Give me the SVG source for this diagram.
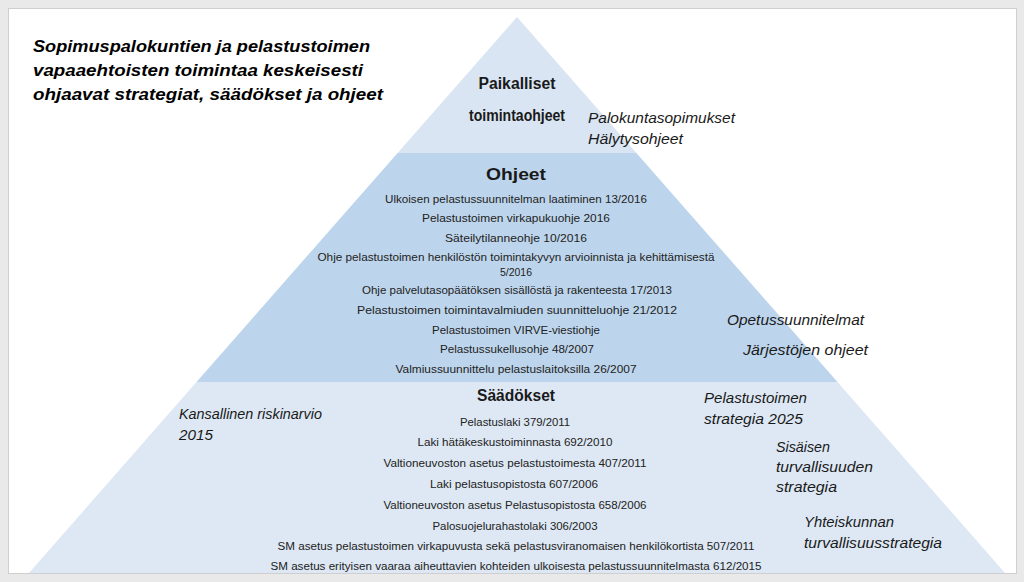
<svg xmlns="http://www.w3.org/2000/svg" width="1024" height="582" viewBox="0 0 1024 582">
<style>
text{font-family:"Liberation Sans",Arial,sans-serif;fill:#1a1a1a}
.title{font-size:17px;font-weight:bold;font-style:italic;fill:#000}
.head{font-size:16px;font-weight:bold;text-anchor:middle}
.item{font-size:10.5px;text-anchor:middle;fill:#222}
.law{font-size:10px;text-anchor:middle;fill:#222}
.side{font-size:14px;font-style:italic}
</style>
<rect x="0" y="0" width="1024" height="582" fill="#e9e9e9"/>
<rect x="8.5" y="8.5" width="1008" height="565" fill="#ffffff" stroke="#cfcfcf"/>
<g id="band-top">
<polygon points="517,17 636.4,153 397.6,153" fill="#d9e5f2"/>
</g>
<g id="band-middle">
<polygon points="397.6,153 636.4,153 837.5,382 196.5,382" fill="#bdd5ec"/>
</g>
<g id="band-bottom">
<polygon points="196.5,382 837.5,382 1005,573 29,573" fill="#dde8f4"/>
</g>
<g id="title">
<text class="title" x="33" y="52" textLength="337" lengthAdjust="spacingAndGlyphs">Sopimuspalokuntien ja pelastustoimen</text>
<text class="title" x="33" y="76" textLength="330" lengthAdjust="spacingAndGlyphs">vapaaehtoisten toimintaa keskeisesti</text>
<text class="title" x="33" y="100" textLength="350" lengthAdjust="spacingAndGlyphs">ohjaavat strategiat, säädökset ja ohjeet</text>
</g>
<g id="paikalliset">
<text class="head" x="517" y="89" textLength="77" lengthAdjust="spacingAndGlyphs">Paikalliset</text>
<text class="head" x="517" y="121" textLength="96" lengthAdjust="spacingAndGlyphs">toimintaohjeet</text>
<text class="side" x="588" y="123" textLength="147" lengthAdjust="spacingAndGlyphs">Palokuntasopimukset</text>
<text class="side" x="588" y="144" textLength="95" lengthAdjust="spacingAndGlyphs">Hälytysohjeet</text>
</g>
<g id="ohjeet">
<text class="head" x="516" y="180" style="font-size:17px" textLength="60" lengthAdjust="spacingAndGlyphs">Ohjeet</text>
<text class="item" x="516" y="203" textLength="262" lengthAdjust="spacingAndGlyphs">Ulkoisen pelastussuunnitelman laatiminen 13/2016</text>
<text class="item" x="516" y="222" textLength="188" lengthAdjust="spacingAndGlyphs">Pelastustoimen virkapukuohje 2016</text>
<text class="item" x="516" y="242" textLength="142" lengthAdjust="spacingAndGlyphs">Säteilytilanneohje 10/2016</text>
<text class="item" x="516" y="261" textLength="397" lengthAdjust="spacingAndGlyphs">Ohje pelastustoimen henkilöstön toimintakyvyn arvioinnista ja kehittämisestä</text>
<text class="item" x="516" y="276" textLength="32" lengthAdjust="spacingAndGlyphs">5/2016</text>
<text class="item" x="517" y="294" textLength="310" lengthAdjust="spacingAndGlyphs">Ohje palvelutasopäätöksen sisällöstä ja rakenteesta 17/2013</text>
<text class="item" x="517" y="314" textLength="320" lengthAdjust="spacingAndGlyphs">Pelastustoimen toimintavalmiuden suunnitteluohje 21/2012</text>
<text class="item" x="516" y="334" textLength="168" lengthAdjust="spacingAndGlyphs">Pelastustoimen VIRVE-viestiohje</text>
<text class="item" x="517" y="353" textLength="154" lengthAdjust="spacingAndGlyphs">Pelastussukellusohje 48/2007</text>
<text class="item" x="516" y="373" textLength="241" lengthAdjust="spacingAndGlyphs">Valmiussuunnittelu pelastuslaitoksilla 26/2007</text>
<text class="side" x="727" y="325" textLength="137" lengthAdjust="spacingAndGlyphs">Opetussuunnitelmat</text>
<text class="side" x="743" y="355" textLength="125" lengthAdjust="spacingAndGlyphs">Järjestöjen ohjeet</text>
</g>
<g id="saadokset">
<text class="head" x="516" y="401" style="font-size:17px" textLength="78" lengthAdjust="spacingAndGlyphs">Säädökset</text>
<text class="law" x="515" y="426" textLength="110" lengthAdjust="spacingAndGlyphs">Pelastuslaki 379/2011</text>
<text class="law" x="515" y="446" textLength="195" lengthAdjust="spacingAndGlyphs">Laki hätäkeskustoiminnasta 692/2010</text>
<text class="law" x="515" y="467" textLength="263" lengthAdjust="spacingAndGlyphs">Valtioneuvoston asetus pelastustoimesta 407/2011</text>
<text class="law" x="514" y="488" textLength="168" lengthAdjust="spacingAndGlyphs">Laki pelastusopistosta 607/2006</text>
<text class="law" x="515" y="509" textLength="263" lengthAdjust="spacingAndGlyphs">Valtioneuvoston asetus Pelastusopistosta 658/2006</text>
<text class="law" x="515" y="530" textLength="165" lengthAdjust="spacingAndGlyphs">Palosuojelurahastolaki 306/2003</text>
<text class="law" x="516" y="550" textLength="477" lengthAdjust="spacingAndGlyphs">SM asetus pelastustoimen virkapuvusta sekä pelastusviranomaisen henkilökortista 507/2011</text>
<text class="law" x="516" y="570" textLength="491" lengthAdjust="spacingAndGlyphs">SM asetus erityisen vaaraa aiheuttavien kohteiden ulkoisesta pelastussuunnitelmasta 612/2015</text>
</g>
<g id="strategiat">
<text class="side" x="179" y="419" textLength="143" lengthAdjust="spacingAndGlyphs">Kansallinen riskinarvio</text>
<text class="side" x="179" y="440" textLength="34" lengthAdjust="spacingAndGlyphs">2015</text>
<text class="side" x="704" y="403" textLength="103" lengthAdjust="spacingAndGlyphs">Pelastustoimen</text>
<text class="side" x="704" y="424" textLength="99" lengthAdjust="spacingAndGlyphs">strategia 2025</text>
<text class="side" x="776" y="452" textLength="54" lengthAdjust="spacingAndGlyphs">Sisäisen</text>
<text class="side" x="776" y="472" textLength="97" lengthAdjust="spacingAndGlyphs">turvallisuuden</text>
<text class="side" x="776" y="492" textLength="61" lengthAdjust="spacingAndGlyphs">strategia</text>
<text class="side" x="804" y="527" textLength="90" lengthAdjust="spacingAndGlyphs">Yhteiskunnan</text>
<text class="side" x="804" y="548" textLength="138" lengthAdjust="spacingAndGlyphs">turvallisuusstrategia</text>
</g>
</svg>
